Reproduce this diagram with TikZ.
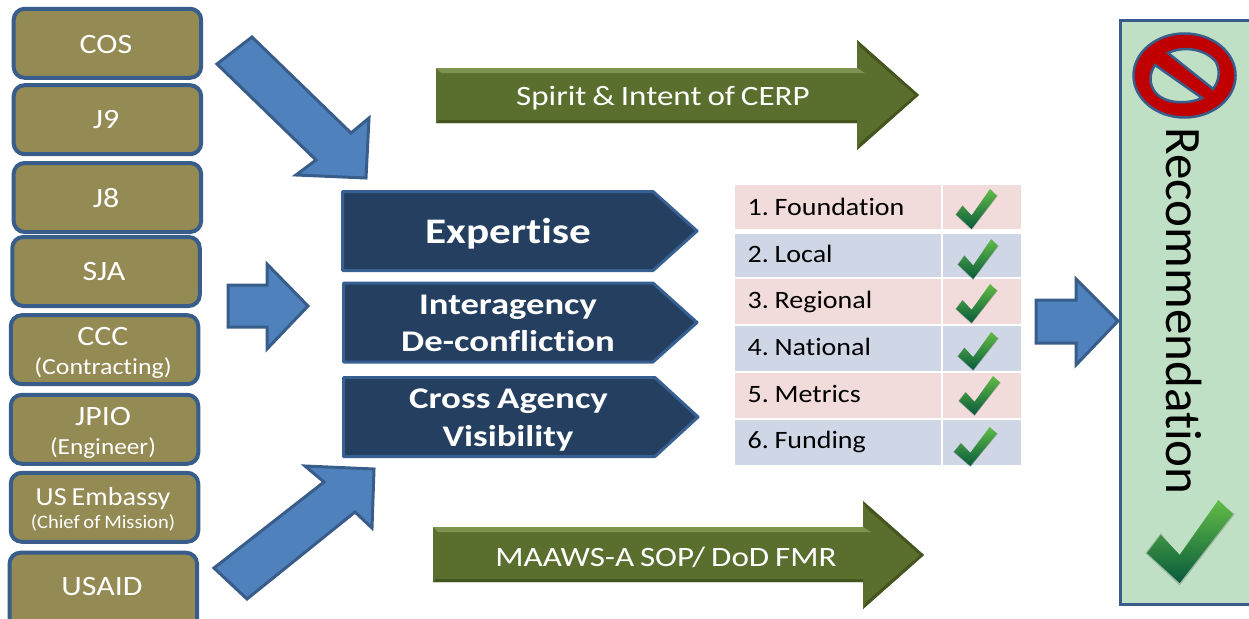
\documentclass[tikz,border=0pt]{standalone}
\usepackage{fontspec}
\setmainfont{Carlito}[Ligatures=NoCommon,WordSpace=0.8]
\definecolor{olivebox}{HTML}{948A54}
\definecolor{edgeblue}{HTML}{385D8A}
\definecolor{arrowblue}{HTML}{4F81BD}
\definecolor{navyfill}{HTML}{243F60}
\definecolor{navyedge}{HTML}{376092}
\definecolor{pinkcell}{HTML}{F2DCDB}
\definecolor{bluecell}{HTML}{CFD7E7}
\definecolor{recfill}{HTML}{BFE0C5}
\definecolor{grnmid}{HTML}{5A6E2D}
\definecolor{grnlight}{HTML}{7F9350}
\definecolor{grndark}{HTML}{45551F}
\definecolor{ringred}{HTML}{C00000}
\definecolor{chktop}{HTML}{62BC46}
\definecolor{chkmid}{HTML}{10A54C}
\definecolor{chkbot}{HTML}{085A3C}
\newcommand{\fs}[2][1.14]{\fontsize{#2}{#2}\selectfont\addfontfeatures{FakeStretch=#1}}
\newcommand{\chkmark}[4]{%
  \begin{scope}[shift={(#1,#2)},x=#3pt,y=-#4pt]
    \fill[black,opacity=.18] (.83,.02)--(1.02,.17)--(.38,1.03)--(-.02,.64)--(.16,.40)--(.38,.68)--cycle;
    \shade[top color=chktop,middle color=chkmid,bottom color=chkbot]
      (.83,0)--(1,.17)--(.38,1)--(0,.64)--(.16,.42)--(.38,.66)--cycle;
  \end{scope}}
\tikzset{
  x=1pt,y=-1pt,
  orgbox/.style={draw=edgeblue,line width=4pt,fill=olivebox,rounded corners=11pt,minimum width=187.5pt,minimum height=69pt,inner sep=0pt},
  wtxt/.style={text=white,inner sep=0pt,anchor=center},
  btxt/.style={text=black,inner sep=0pt,anchor=west},
  bluearrow/.style={draw=edgeblue,line width=3pt,fill=arrowblue,line join=miter},
  navy/.style={draw=navyedge,line width=3pt,fill=navyfill,line join=round}
}
\begin{document}
\begin{tikzpicture}
\useasboundingbox (0,0) rectangle (1249,618);
% organisation boxes
\node[orgbox] (cos) at (107.4,43.3) {};
\node[orgbox] (j9) at (107.4,119.7) {};
\node[orgbox] (j8) at (107.4,197.5) {};
\node[orgbox] (sja) at (106,271.5) {};
\node[orgbox] (ccc) at (104.5,349.7) {};
\node[orgbox] (jpio) at (104.5,429.3) {};
\node[orgbox] (emb) at (104.5,507.3) {};
\node[orgbox,minimum height=80pt] (usaid) at (103.3,592.7) {};
\node[wtxt] (tcos) at (106,44.5) {\fs{28}COS};
\node[wtxt] (tj9) at (106,120) {\fs{28}J9};
\node[wtxt] (tj8) at (106,198) {\fs{28}J8};
\node[wtxt] (tsja) at (104,272) {\fs{28}SJA};
\node[wtxt] (tccc) at (103,337) {\fs{28}CCC};
\node[wtxt] (tccc2) at (103,368) {\fs[1.125]{23}(Contracting)};
\node[wtxt] (tjpio) at (103,417) {\fs{28}JPIO};
\node[wtxt] (tjpio2) at (103,448) {\fs[1.1]{23}(Engineer)};
\node[wtxt] (temb) at (103,499) {\fs[1.08]{26}US Embassy};
\node[wtxt] (temb2) at (103,523) {\fs[1.08]{19}(Chief of Mission)};
\node[wtxt] (tusaid) at (102,587) {\fs{28}USAID};
% blue arrows
\draw[bluearrow] (252,37)--(351,133)--(369,118)--(366,178)--(296,175)--(316,160)--(217,64)--cycle;
\draw[bluearrow] (228,285)--(267,285)--(267,264)--(308,306)--(267,349)--(267,327)--(228,327)--cycle;
\draw[bluearrow] (214,568)--(247,599)--(355,512)--(372,528)--(374,469)--(305,466)--(324,482)--cycle;
\draw[bluearrow] (1036,300)--(1076,300)--(1076,279)--(1118,321)--(1076,365)--(1076,343)--(1036,343)--cycle;
% green arrows
\foreach \l/\t/\b/\hx/\ht/\hb/\tx/\ty in {436/68/123/857/40/150/919/95, 433/527/582/863/501/609/924/555}{
  \fill[grnmid] (\l,\t)--(\hx,\t)--(\hx,\ht)--(\tx,\ty)--(\hx,\hb)--(\hx,\b)--(\l,\b)--cycle;
  \fill[grnlight] (\l,\t)--(\hx,\t)--(\hx+8,\t+5)--(\l+5,\t+5)--cycle;
  \fill[grndark] (\l,\b)--(\hx,\b)--(\hx,\b-3)--(\l+3,\b-3)--cycle;
  \fill[grndark] (\hx,\hb)--(\tx,\ty)--(\tx-4,\ty)--(\hx+3,\hb-7)--cycle;
  \fill[grndark] (\hx,\ht)--(\tx,\ty)--(\tx-4,\ty)--(\hx+3,\ht+7)--cycle;
}
\node[wtxt] (spirit) at (663,98) {\fs[1.18]{28}Spirit \& Intent of CERP};
\node[wtxt] (maaws) at (666,557) {\fs[1.18]{28}MAAWS-A SOP/ DoD FMR};
% pentagons
\draw[navy] (342.5,191.5)--(653,191.5)--(697,231)--(653,270.5)--(342.5,270.5)--cycle;
\draw[navy] (343.5,283)--(653,283)--(697,322.5)--(653,362)--(343.5,362)--cycle;
\draw[navy] (343.5,377.5)--(655,377.5)--(698,417)--(655,456.5)--(343.5,456.5)--cycle;
\node[wtxt] (exp) at (508,234) {\bfseries\fs[1.2]{36}Expertise};
\node[wtxt] (ia) at (508,307) {\bfseries\fs[1.22]{30}Interagency};
\node[wtxt] (dc) at (508,341) {\bfseries\fs[1.225]{30}De-confliction};
\node[wtxt] (ca) at (508.5,401) {\bfseries\fs[1.23]{30}Cross Agency};
\node[wtxt] (vis) at (508,438) {\bfseries\fs[1.22]{30}Visibility};
% table
\foreach \c/\yy/\h in {pinkcell/185/44,bluecell/234/43,pinkcell/279/45,bluecell/326/45,pinkcell/373/45,bluecell/420/45}{
  \fill[\c] (735,\yy) rectangle (941,\yy+\h);
  \fill[\c] (943,\yy) rectangle (1021,\yy+\h);
}
\node[btxt] (r1) at (747.5,207) {\fs[1.12]{25}1.\hspace{-1.5pt} Foundation};
\node[btxt] (r2) at (747.5,254) {\fs[1.12]{25}2.\hspace{-1.5pt} Local};
\node[btxt] (r3) at (747.5,302) {\fs[1.12]{25}3.\hspace{-1.5pt} Regional};
\node[btxt] (r4) at (747.5,347) {\fs[1.12]{25}4.\hspace{-1.5pt} National};
\node[btxt] (r5) at (747.5,394) {\fs[1.12]{25}5.\hspace{-1.5pt} Metrics};
\node[btxt] (r6) at (747.5,442) {\fs[1.12]{25}6.\hspace{-1.5pt} Funding};
\chkmark{956}{189}{41}{40}
\chkmark{958}{239}{40}{40}
\chkmark{956}{284}{41}{39}
\chkmark{958}{332}{40}{38}
\chkmark{959}{376}{41}{39}
\chkmark{954}{427}{43}{39}
% recommendation panel
\draw[draw=edgeblue,line width=3pt,fill=recfill] (1120.5,20.5) -- (1250.5,20.5) -- (1250.5,604) -- (1120.5,604) -- cycle;
\draw[draw=edgeblue,line width=2.5pt,fill=ringred] (1184.5,75.5) ellipse [x radius=51,y radius=42];
\draw[draw=edgeblue,line width=2.5pt,fill=recfill] (1168,53) .. controls (1182,46) and (1205,48) .. (1216,62) .. controls (1220,70) and (1220,80) .. (1213,89) -- cycle;
\draw[draw=edgeblue,line width=2.5pt,fill=recfill] (1155,65) -- (1202,98) .. controls (1190,104) and (1165,105) .. (1155,92) .. controls (1149,84) and (1149,74) .. (1155,65) -- cycle;
\node[text=black,inner sep=0pt,rotate=-90,anchor=center] (rec) at (1184,311) {\fs[1.0]{51}Recommendation};
\chkmark{1147}{500}{86}{83}
\end{tikzpicture}
\end{document}
